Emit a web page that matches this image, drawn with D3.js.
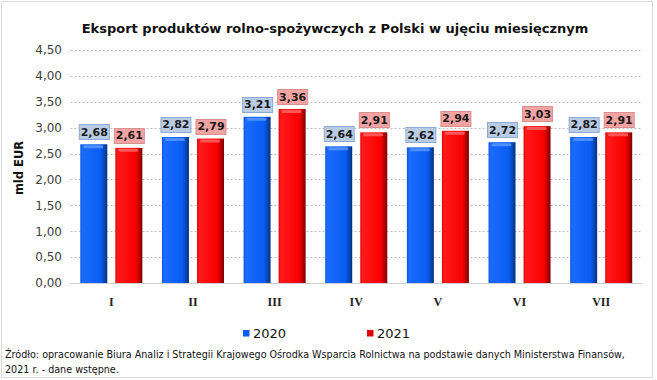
<!DOCTYPE html>
<html><head><meta charset="utf-8">
<script src="https://cdn.jsdelivr.net/npm/d3@7"></script>
<style>body{margin:0;background:#fff}svg{display:block}</style>
</head><body>
<script>
const categories = ["I","II","III","IV","V","VI","VII"];
const series = ["2020","2021"];
const values2020 = [2.68,2.82,3.21,2.64,2.62,2.72,2.82];
const values2021 = [2.61,2.79,3.36,2.91,2.94,3.03,2.91];
const yTicks = [0,0.5,1,1.5,2,2.5,3,3.5,4,4.5];
const title = "Eksport produktów rolno-spożywczych z Polski w ujęciu miesięcznym";
const yTitle = "mld EUR";
const source1 = "Źródło: opracowanie Biura Analiz i Strategii Krajowego Ośrodka Wsparcia Rolnictwa na podstawie danych Ministerstwa Finansów,";
const source2 = "2021 r. - dane wstępne.";

const W=657,H=380;
const svg=d3.select("body").append("svg").attr("width",W).attr("height",H);
const font="DejaVu Sans, Verdana, sans-serif";
const fmt=v=>d3.format(".2f")(v).replace(".",",");

const defs=svg.append("defs");
function grad(id,stops){
  const g=defs.append("linearGradient").attr("id",id).attr("x1","0").attr("x2","1").attr("y1","0").attr("y2","0");
  stops.forEach(s=>g.append("stop").attr("offset",s[0]).attr("stop-color",s[1]));
}
grad("gb",[[0,"#0a55d8"],[0.08,"#1a6bff"],[0.75,"#0a5df2"],[0.9,"#0645b5"],[1,"#05307a"]]);
grad("gr",[[0,"#dd0000"],[0.08,"#ff1a1a"],[0.75,"#f80000"],[0.9,"#b50000"],[1,"#7a0000"]]);
const fills={"2020":"url(#gb)","2021":"url(#gr)"};
const hl={"2020":"#5c9bff","2021":"#ff6a6a"};
const boxFill={"2020":"#b8cce4","2021":"#f4a3a3"};
const boxStroke={"2020":"#8eaad4","2021":"#d98e8e"};
const legendCol={"2020":"#0a5df2","2021":"#e00000"};

// frame
svg.append("rect").attr("x",1.5).attr("y",1.5).attr("width",W-6).attr("height",H-4)
  .attr("fill","none").attr("stroke","#d9d9d9");

const x0=d3.scaleBand().domain(categories).range([70.5,642]).paddingInner(0.24).paddingOuter(0.12);
const x1=d3.scaleBand().domain(series).range([0,x0.bandwidth()]).paddingInner(0.23);
const y=d3.scaleLinear().domain([0,4.5]).range([283,50]);

// grid
svg.append("g").selectAll("line").data(yTicks.filter(t=>t>0)).join("line")
  .attr("x1",70.5).attr("x2",642).attr("y1",d=>Math.round(y(d))+0.5).attr("y2",d=>Math.round(y(d))+0.5)
  .attr("stroke","#bfbfbf").attr("stroke-dasharray","2,2");
svg.append("line").attr("x1",70.5).attr("x2",642).attr("y1",283.5).attr("y2",283.5).attr("stroke","#d0d0d0");

// y axis labels
const yAxis=d3.axisLeft(y).tickValues(yTicks).tickFormat(fmt).tickSize(0).tickPadding(0);
const ga=svg.append("g").attr("transform","translate(62,0)").call(yAxis);
ga.select(".domain").remove();
ga.selectAll("text").attr("font-family",font).attr("font-size",12).attr("fill","#404040");

// x axis labels
const xAxis=d3.axisBottom(x0).tickSize(0).tickPadding(0);
const gx=svg.append("g").attr("transform","translate(0,297)").call(xAxis);
gx.select(".domain").remove();
gx.selectAll("text").attr("font-family","Liberation Serif, serif").attr("font-weight","bold").attr("font-size",12).attr("fill","#222");

const data=categories.map((c,i)=>({c,vals:[{s:"2020",v:values2020[i]},{s:"2021",v:values2021[i]}]}));
const groups=svg.append("g").selectAll("g").data(data).join("g").attr("transform",d=>`translate(${x0(d.c)},0)`);
const bars=groups.selectAll("g.bar").data(d=>d.vals).join("g").attr("class","bar");
bars.append("rect").attr("x",d=>x1(d.s)).attr("y",d=>y(d.v)).attr("width",x1.bandwidth()).attr("height",d=>y(0)-y(d.v))
  .attr("fill",d=>fills[d.s]);
bars.append("rect").attr("x",d=>x1(d.s)+3).attr("y",d=>y(d.v)+1).attr("width",x1.bandwidth()-7).attr("height",3).attr("rx",1.5)
  .attr("fill",d=>hl[d.s]).attr("opacity",0.8);
// label boxes
const bw=30,bh=15;
bars.append("rect").attr("x",d=>x1(d.s)+x1.bandwidth()/2-bw/2+0.5).attr("y",d=>Math.round(y(d.v)-5-bh)+0.5)
  .attr("width",bw).attr("height",bh).attr("fill",d=>boxFill[d.s]).attr("stroke",d=>boxStroke[d.s]);
bars.append("text").attr("x",d=>x1(d.s)+x1.bandwidth()/2+0.5).attr("y",d=>Math.round(y(d.v)-5-bh/2)+0.5)
  .attr("dy","0.36em").attr("text-anchor","middle").attr("font-family",font).attr("font-weight","bold").attr("font-size",11)
  .attr("fill","#1a1a1a").text(d=>fmt(d.v));

// title
svg.append("text").attr("x",335).attr("y",33).attr("text-anchor","middle").attr("font-family",font)
  .attr("font-weight","bold").attr("font-size",13).attr("fill","#111").text(title);
// y title
svg.append("text").attr("transform","translate(23,168) rotate(-90)").attr("text-anchor","middle").attr("font-family",font)
  .attr("font-weight","bold").attr("font-size",11.5).attr("fill","#111").text(yTitle);

// legend
const legX={"2020":243,"2021":367};
const lg=svg.append("g").selectAll("g").data(series).join("g").attr("transform",d=>`translate(${legX[d]},333)`);
lg.append("rect").attr("x",0).attr("y",-3).attr("width",6.5).attr("height",6.5).attr("fill",d=>legendCol[d]);
lg.append("text").attr("x",10).attr("dy","0.36em").attr("font-family",font).attr("font-size",13).attr("fill","#111").text(d=>d);

// source
svg.append("text").attr("x",5).attr("y",358).attr("font-family",font).attr("font-size",9.6).attr("fill","#111").text(source1);
svg.append("text").attr("x",5).attr("y",373).attr("font-family",font).attr("font-size",9.6).attr("fill","#111").text(source2);
</script>
</body></html>
